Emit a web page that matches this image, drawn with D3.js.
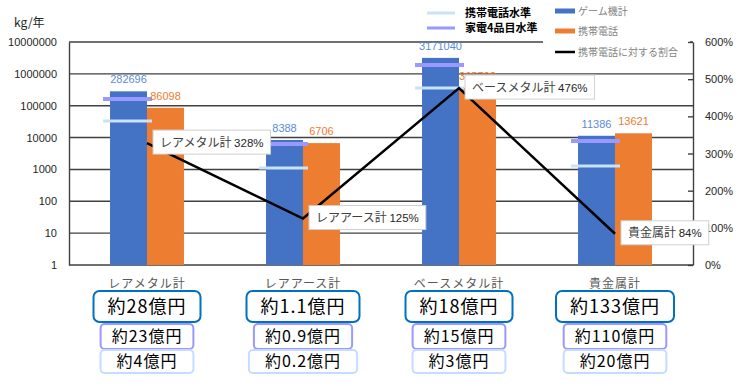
<!DOCTYPE html>
<html lang="ja">
<head>
<meta charset="UTF-8"/>
<title>ゲーム機 vs 携帯電話</title>
<script src="https://cdnjs.cloudflare.com/ajax/libs/d3/7.8.5/d3.min.js"></script>
<style>
  body { margin: 0; background: #fff; }
  svg { display: block; font-family: "Noto Sans CJK JP", "Noto Sans", sans-serif; }
</style>
</head>
<body>
<div id="chart"></div>
<script>
var categories = ['レアメタル計', 'レアアース計', 'ベースメタル計', '貴金属計'];
var gameValues = [282696, 8388, 3171040, 11386];
var phoneValues = [86098, 6706, 365782, 13621];
var ratioValues = [3.28, 1.25, 4.76, 0.84];
var applianceLevel = [162000, 6300, 1900000, 7800];   // 家電4品目水準
var phoneLevel = [33000, 1100, 360000, 1280];         // 携帯電話水準
var totalYen = ['約28億円', '約1.1億円', '約18億円', '約133億円'];
var applianceYen = ['約23億円', '約0.9億円', '約15億円', '約110億円'];
var phoneYen = ['約4億円', '約0.2億円', '約3億円', '約20億円'];
var leftTicks = [1, 10, 100, 1000, 10000, 100000, 1000000, 10000000];
var rightTicks = [0, 1, 2, 3, 4, 5, 6];

var width = 740, height = 386;
var plotL = 69, plotR = 693, plotT = 42, plotB = 265;

var BLUE = '#4472c4', ORANGE = '#ed7d31', PURPLE = '#9999ff', LIGHT = '#c9e2f8';
var GRID = '#404040';

var svg = d3.select('#chart').append('svg')
  .attr('width', width).attr('height', height);

var x = d3.scaleBand().domain(categories).range([plotL, plotR])
  .paddingInner(0.526).paddingOuter(0.263);
var x1 = d3.scaleBand().domain(['game', 'phone']).range([0, x.bandwidth()]);
var y = d3.scaleLog().domain([1, 1e7]).range([plotB, plotT]);
var y2 = d3.scaleLinear().domain([0, 6]).range([plotB, plotT]);

// gridlines
svg.append('g').selectAll('line').data(leftTicks.slice(1)).join('line')
  .attr('x1', plotL).attr('x2', plotR)
  .attr('y1', d => y(d)).attr('y2', d => y(d))
  .attr('stroke', GRID).attr('stroke-width', 1.4);

// left axis
var gl = svg.append('g').attr('transform', 'translate(' + plotL + ',0)')
  .call(d3.axisLeft(y).tickValues(leftTicks).tickSize(0).tickPadding(12).tickFormat(d3.format('d')));
gl.select('.domain').attr('stroke', GRID).attr('stroke-width', 1.4);
gl.selectAll('text').attr('font-family', 'Liberation Sans, sans-serif').attr('font-size', 11).attr('fill', '#262626');

// bottom axis line
svg.append('line').attr('x1', plotL).attr('x2', plotR).attr('y1', plotB).attr('y2', plotB)
  .attr('stroke', GRID).attr('stroke-width', 1.4);

// bars
var groups = svg.append('g').selectAll('g').data(categories).join('g')
  .attr('transform', d => 'translate(' + x(d) + ',0)');
groups.append('rect')
  .attr('x', x1('game')).attr('width', x1.bandwidth())
  .attr('y', (d, i) => y(gameValues[i])).attr('height', (d, i) => plotB - y(gameValues[i]))
  .attr('fill', BLUE);
groups.append('rect')
  .attr('x', x1('phone')).attr('width', x1.bandwidth())
  .attr('y', (d, i) => y(phoneValues[i])).attr('height', (d, i) => plotB - y(phoneValues[i]))
  .attr('fill', ORANGE);

// level markers
groups.append('line')
  .attr('x1', x1('game') - 7).attr('x2', x1('game') + x1.bandwidth() + 5)
  .attr('y1', (d, i) => y(phoneLevel[i])).attr('y2', (d, i) => y(phoneLevel[i]))
  .attr('stroke', LIGHT).attr('stroke-width', 3);
groups.append('line')
  .attr('x1', x1('game') - 7).attr('x2', x1('game') + x1.bandwidth() + 5)
  .attr('y1', (d, i) => y(applianceLevel[i])).attr('y2', (d, i) => y(applianceLevel[i]))
  .attr('stroke', PURPLE).attr('stroke-width', 4);

// bar labels
groups.append('text')
  .attr('x', x1('game') + x1.bandwidth() / 2).attr('y', (d, i) => y(gameValues[i]) - 8)
  .attr('text-anchor', 'middle').attr('font-family', 'Liberation Sans, sans-serif').attr('font-size', 11)
  .attr('fill', '#5b8bd6').text((d, i) => gameValues[i]);
groups.append('text')
  .attr('x', x1('phone') + x1.bandwidth() / 2).attr('y', (d, i) => y(phoneValues[i]) - 8)
  .attr('text-anchor', 'middle').attr('font-family', 'Liberation Sans, sans-serif').attr('font-size', 11)
  .attr('fill', ORANGE).text((d, i) => phoneValues[i]);

// legend background covers the top gridline
svg.append('rect').attr('x', 543).attr('y', 0).attr('width', 147).attr('height', 62).attr('fill', '#fff');

// right axis
var gr = svg.append('g').attr('transform', 'translate(' + plotR + ',0)')
  .call(d3.axisRight(y2).tickValues(rightTicks).tickSizeInner(-5).tickSizeOuter(0).tickPadding(12)
    .tickFormat(d => (d * 100) + '%'));
gr.select('.domain').attr('stroke', GRID).attr('stroke-width', 1.4);
gr.selectAll('line').attr('stroke', GRID).attr('stroke-width', 1.4);
gr.selectAll('text').attr('font-family', 'Liberation Sans, sans-serif').attr('font-size', 11).attr('fill', '#262626');

// ratio line
var cx = d => x(d) + x1('phone');
svg.append('path')
  .attr('d', d3.line().x(d => cx(d)).y((d, i) => y2(ratioValues[i]))(categories))
  .attr('fill', 'none').attr('stroke', '#000').attr('stroke-width', 2.5);

// ratio callouts
var callouts = svg.append('g').selectAll('g').data(categories).join('g')
  .attr('transform', (d, i) => 'translate(' + (cx(d) + 6) + ',' + (y2(ratioValues[i]) - 13) + ')');
var ctext = callouts.append('text').attr('x', 7).attr('y', 16.5).attr('font-size', 12);
ctext.append('tspan').attr('fill', '#404040').text(d => d + ' ');
ctext.append('tspan').attr('font-family', 'Liberation Sans, sans-serif').attr('font-size', 11.5)
  .attr('fill', '#262626').text((d, i) => Math.round(ratioValues[i] * 100) + '%');
callouts.insert('rect', 'text')
  .attr('width', function() { return this.parentNode.querySelector('text').getComputedTextLength() + 14; })
  .attr('height', 24).attr('fill', '#fff').attr('stroke', '#d0d0d0');

// category labels
svg.append('g').selectAll('text').data(categories).join('text')
  .attr('x', d => x(d) + x.bandwidth() / 2).attr('y', 288)
  .attr('text-anchor', 'middle').attr('font-size', 12).attr('letter-spacing', 1)
  .attr('fill', '#595959').text(d => d);

// yen boxes under the axis
var rows = [
  { values: totalYen, cy: 306.5, h: 31, size: 18, stroke: '#0070c0', rx: 6, pad: 14 },
  { values: applianceYen, cy: 336.5, h: 25, size: 16, stroke: PURPLE, rx: 4, pad: 11 },
  { values: phoneYen, cy: 361.5, h: 23, size: 16, stroke: '#c5dcff', rx: 4, pad: 16 }
];
rows.forEach(function(row) {
  var g = svg.append('g').selectAll('g').data(categories).join('g')
    .attr('transform', d => 'translate(' + (x(d) + x.bandwidth() / 2) + ',' + row.cy + ')');
  g.append('text').attr('text-anchor', 'middle').attr('y', row.size * 0.36)
    .attr('font-size', row.size).attr('letter-spacing', 1).attr('fill', '#000')
    .text((d, i) => row.values[i]);
  g.insert('rect', 'text')
    .attr('width', function() { return Math.max(88, this.parentNode.querySelector('text').getComputedTextLength() + row.pad * 2); })
    .attr('x', function() { return -d3.select(this).attr('width') / 2; })
    .attr('y', -row.h / 2).attr('height', row.h).attr('rx', row.rx)
    .attr('fill', '#fff').attr('stroke', row.stroke).attr('stroke-width', 2);
});

// unit label
svg.append('text').attr('x', 14).attr('y', 27).attr('font-size', 12).attr('fill', '#262626').text('kg/年');

// legend: level lines
var lev = [{ name: '携帯電話水準', color: LIGHT, w: 3 }, { name: '家電4品目水準', color: PURPLE, w: 3 }];
var lg1 = svg.append('g').selectAll('g').data(lev).join('g')
  .attr('transform', (d, i) => 'translate(427,' + (13 + i * 15) + ')');
lg1.append('line').attr('x2', 28).attr('stroke', d => d.color).attr('stroke-width', d => d.w);
lg1.append('text').attr('x', 38).attr('y', 4).attr('font-size', 11).attr('font-weight', 'bold')
  .attr('fill', '#000').text(d => d.name);

// legend: series
var ser = [{ name: 'ゲーム機計', color: BLUE, w: 5 }, { name: '携帯電話', color: ORANGE, w: 5 }, { name: '携帯電話に対する割合', color: '#000', w: 2.5 }];
var lg2 = svg.append('g').selectAll('g').data(ser).join('g')
  .attr('transform', (d, i) => 'translate(555,' + [11, 31, 52][i] + ')');
lg2.append('line').attr('x2', 20).attr('stroke', d => d.color).attr('stroke-width', d => d.w);
lg2.append('text').attr('x', 23).attr('y', 3.5).attr('font-size', 10).attr('fill', '#7f7f7f').text(d => d.name);
</script>
</body>
</html>
